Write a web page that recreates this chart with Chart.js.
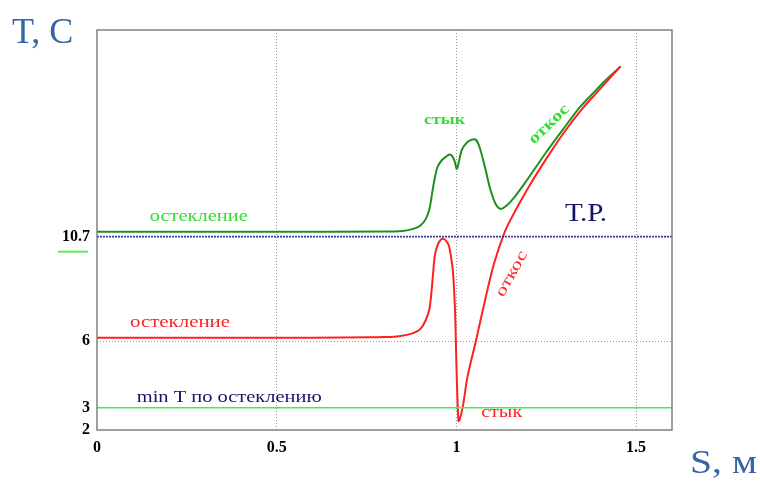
<!DOCTYPE html>
<html>
<head>
<meta charset="utf-8">
<script src="https://cdn.jsdelivr.net/npm/chart.js@4"></script>
<style>
  html, body { margin: 0; padding: 0; background: #fff; }
  #wrap { width: 760px; height: 483px; position: relative; }
</style>
</head>
<body>
<div id="wrap"><canvas id="c"></canvas></div>
<script>
// ---- data ----
const xTicks = [0, 0.5, 1, 1.5];
const yTicks = [2, 3, 6, 10.7];

// upper curve (green): glazing -> joint -> slope
const greenX = [0, 0.5, 0.8, 0.85, 0.88, 0.9, 0.915, 0.925, 0.932, 0.936, 0.942, 0.948, 0.96, 0.971, 0.981, 0.988, 0.995, 1.001, 1.006, 1.015, 1.03, 1.045, 1.055, 1.065, 1.08, 1.095, 1.11, 1.124, 1.14, 1.16, 1.19, 1.25, 1.3, 1.342, 1.38, 1.416, 1.457];
const greenY = [10.92, 10.92, 10.93, 10.96, 11.05, 11.2, 11.5, 11.95, 12.6, 13.0, 13.5, 13.85, 14.15, 14.3, 14.4, 14.34, 14.1, 13.75, 14.0, 14.6, 14.95, 15.07, 15.05, 14.7, 13.8, 12.8, 12.15, 11.95, 12.1, 12.45, 13.1, 14.5, 15.6, 16.5, 17.15, 17.75, 18.36];

// lower curve (red): glazing -> joint -> slope
const redX = [0, 0.3, 0.6, 0.76, 0.8, 0.84, 0.88, 0.9, 0.915, 0.925, 0.93, 0.935, 0.94, 0.948, 0.956, 0.964, 0.972, 0.979, 0.985, 0.99, 0.994, 0.997, 1.0, 1.003, 1.006, 1.009, 1.018, 1.031, 1.055, 1.082, 1.105, 1.133, 1.152, 1.2, 1.25, 1.3, 1.35, 1.4, 1.457];
const redY = [6.15, 6.15, 6.15, 6.17, 6.18, 6.22, 6.36, 6.55, 6.95, 7.45, 8.1, 9.0, 9.85, 10.33, 10.55, 10.6, 10.5, 10.3, 9.8, 9.2, 8.2, 7.0, 5.0, 3.4, 2.4, 2.45, 3.05, 4.4, 6.05, 8.0, 9.5, 10.85, 11.5, 12.9, 14.2, 15.4, 16.45, 17.35, 18.36];

// reference levels
const dewPoint = 10.7;      // Т.Р.
const minGlassT = 3;        // min T по остеклению
const levelX = [0, 1.6];

const xMin = 0, xMax = 1.6, yMin = 2, yMax = 20;

// ---- text labels (placed in data coordinates) ----
const notes = [
  { text: 'остекление', x: 0.283, y: 11.6, font: '17px "Liberation Serif"', color: '#33DD33', w: 98, a: 0 },
  { text: 'остекление', x: 0.231, y: 6.82, font: '17px "Liberation Serif"', color: '#FF2222', w: 100, a: 0 },
  { text: 'стык', x: 0.967, y: 15.96, font: 'bold 15px "Liberation Serif"', color: '#33DD33', w: 41, a: 0 },
  { text: 'откос', x: 1.258, y: 15.75, font: 'bold 16px "Liberation Serif"', color: '#33DD33', w: 50, a: -44 },
  { text: 'откос', x: 1.154, y: 9.03, font: '16px "Liberation Serif"', color: '#FF2222', w: 50, a: -61 },
  { text: 'стык', x: 1.126, y: 2.77, font: '16px "Liberation Serif"', color: '#FF2222', w: 41, a: 0 },
  { text: 'Т.Р.', x: 1.361, y: 11.68, font: '25px "Liberation Serif"', color: '#14146A', w: 42, a: 0 },
  { text: 'min T по остеклению', x: 0.368, y: 3.45, font: '16px "Liberation Serif"', color: '#14146A', w: 185, a: 0 }
];

function pts(xs, ys) { return xs.map((x, i) => ({ x: x, y: ys[i] })); }

function drawLabel(ctx, t, px, py, font, color, width, angle) {
  ctx.save();
  ctx.translate(px, py);
  ctx.rotate(angle * Math.PI / 180);
  ctx.font = font;
  const m = ctx.measureText(t).width;
  const sx = width ? width / m : 1;
  ctx.scale(sx, 1);
  ctx.fillStyle = color;
  ctx.textAlign = 'center';
  ctx.textBaseline = 'middle';
  ctx.fillText(t, 0, 0);
  ctx.restore();
}

const decor = {
  id: 'decor',
  afterDatasetsDraw(chart) {
    const ctx = chart.ctx, a = chart.chartArea;
    const xs = chart.scales.x, ys = chart.scales.y;
    // frame
    ctx.save();
    ctx.strokeStyle = '#808080';
    ctx.lineWidth = 1.5;
    ctx.strokeRect(a.left, a.top, a.right - a.left, a.bottom - a.top);
    ctx.restore();
    // labels
    notes.forEach(n => drawLabel(ctx, n.text, xs.getPixelForValue(n.x), ys.getPixelForValue(n.y), n.font, n.color, n.w, n.a));
    // green mark under the 10.7 tick label
    const py = ys.getPixelForValue(dewPoint) + 15;
    ctx.save();
    ctx.strokeStyle = '#55EE55';
    ctx.lineWidth = 2;
    ctx.beginPath();
    ctx.moveTo(a.left - 39, py);
    ctx.lineTo(a.left - 9, py);
    ctx.stroke();
    ctx.restore();
    // axis titles
    ctx.save();
    ctx.fillStyle = '#3565A5';
    ctx.textBaseline = 'alphabetic';
    ctx.textAlign = 'left';
    ctx.font = '36px "Liberation Serif"';
    ctx.fillText('T, C', 12, 43);
    ctx.font = '34px "Liberation Serif"';
    const w = ctx.measureText('S, м').width;
    ctx.save();
    ctx.translate(690, 473);
    ctx.scale(67 / w, 1);
    ctx.fillText('S, м', 0, 0);
    ctx.restore();
    ctx.restore();
  }
};

new Chart(document.getElementById('c'), {
  type: 'scatter',
  data: {
    datasets: [
      { label: 'min T', data: pts(levelX, [minGlassT, minGlassT]), showLine: true, borderColor: '#44EE44', borderWidth: 1.5, pointRadius: 0 },
      { label: 'Т.Р.', data: pts(levelX, [dewPoint, dewPoint]), showLine: true, borderColor: '#3A3A9A', borderWidth: 1.6, borderDash: [2, 1], pointRadius: 0 },
      { label: 'red', data: pts(redX, redY), showLine: true, borderColor: '#FF2020', borderWidth: 2, pointRadius: 0, tension: 0.3 },
      { label: 'green', data: pts(greenX, greenY), showLine: true, borderColor: '#1F901F', borderWidth: 2, pointRadius: 0, tension: 0.3 }
    ]
  },
  options: {
    responsive: true,
    maintainAspectRatio: false,
    animation: false,
    layout: { padding: { top: 30, right: 88, left: 0, bottom: 0 } },
    plugins: { legend: { display: false }, tooltip: { enabled: false } },
    scales: {
      x: {
        type: 'linear', min: xMin, max: xMax,
        afterBuildTicks: s => { s.ticks = xTicks.map(v => ({ value: v })); },
        afterFit: s => { s.height = 53; },
        grid: {
          drawTicks: false,
          color: c => (c.tick && c.tick.value > 0) ? '#999999' : 'rgba(0,0,0,0)',
          lineWidth: 1
        },
        border: { display: false, dash: [1, 2] },
        ticks: {
          padding: 8, color: '#000',
          font: { family: '"Liberation Serif"', size: 16, weight: 'bold' },
          callback: v => String(v),
          maxRotation: 0
        }
      },
      y: {
        type: 'linear', min: yMin, max: yMax,
        afterBuildTicks: s => { s.ticks = yTicks.map(v => ({ value: v })); },
        afterFit: s => { s.width = 97; },
        grid: {
          drawTicks: false,
          color: c => (c.tick && c.tick.value === 6) ? '#999999' : 'rgba(0,0,0,0)',
          lineWidth: 1
        },
        border: { display: false, dash: [1, 2] },
        ticks: {
          padding: 7, color: '#000',
          font: { family: '"Liberation Serif"', size: 16, weight: 'bold' },
          callback: v => String(v)
        }
      }
    }
  },
  plugins: [decor]
});
</script>
</body>
</html>
